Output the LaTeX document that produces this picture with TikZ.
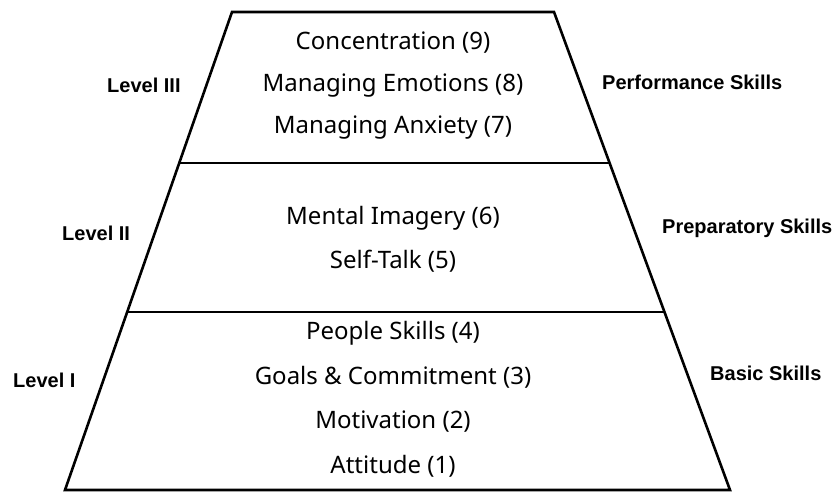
\documentclass[tikz,border=0pt]{standalone}
\usepackage{fontspec}
\setmainfont{Noto Sans}
\newfontfamily\sidefont{Liberation Sans}
\usetikzlibrary{calc}

\begin{document}
\begin{tikzpicture}[%
        x = 1pt, y = -1pt,
        skill/.style = {%
            font = \fontsize{24}{28}\selectfont,
            inner sep = 0pt
        },
        side/.style = {%
            font = \sidefont\bfseries\fontsize{20}{24}\selectfont,
            inner sep = 0pt,
            anchor = west
        },
        edge/.style = {line width = 2.6pt, line join = miter}
    ]

        \useasboundingbox (0,0) rectangle (837,494);

        % The corners of the pyramid.
        \coordinate (tl) at (232,12);
        \coordinate (tr) at (554,12);
        \coordinate (bl) at (65,490);
        \coordinate (br) at (730,490);

        % Where the two dividers meet the sides.
        \coordinate (l1) at ($(tl)!0.316!(bl)$);
        \coordinate (r1) at ($(tr)!0.316!(br)$);
        \coordinate (l2) at ($(tl)!0.628!(bl)$);
        \coordinate (r2) at ($(tr)!0.628!(br)$);

        % Outline and dividers.
        \draw[edge] (tl) -- (tr) -- (br) -- (bl) -- cycle;
        \draw[edge] (l1) -- (r1);
        \draw[edge] (l2) -- (r2);

        % Level III.
        \node[skill] (s9) at (393,43) {Concentration (9)};
        \node[skill] (s8) at (393,86) {Managing Emotions (8)};
        \node[skill] (s7) at (393,128) {Managing Anxiety (7)};

        % Level II.
        \node[skill] (s6) at (393,218) {Mental Imagery (6)};
        \node[skill] (s5) at (393,261) {Self-Talk (5)};

        % Level I.
        \node[skill] (s4) at (393,333) {People Skills (4)};
        \node[skill] (s3) at (393,377) {Goals \& Commitment (3)};
        \node[skill] (s2) at (393,422) {Motivation (2)};
        \node[skill] (s1) at (393,466) {Attitude (1)};

        % Label the levels.
        \node[side] (lev3) at (107,85) {Level III};
        \node[side] (lev2) at (62,233) {Level II};
        \node[side] (lev1) at (13,380) {Level I};
        \node[side] (perf) at (602,82) {Performance Skills};
        \node[side] (prep) at (662,228) {Preparatory Skills};
        \node[side] (basic) at (710,373) {Basic Skills};
    \end{tikzpicture}
\end{document}
